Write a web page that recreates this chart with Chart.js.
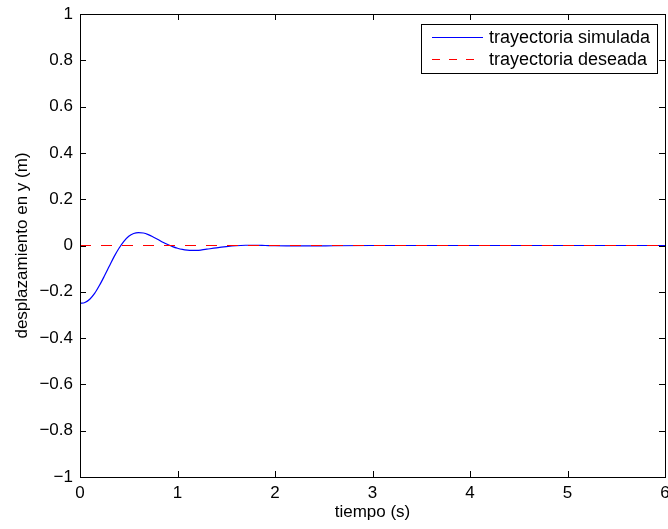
<!DOCTYPE html>
<html>
<head>
<meta charset="utf-8">
<script src="https://cdn.jsdelivr.net/npm/chart.js@4"></script>
<style>
  html, body { margin: 0; padding: 0; background: #fff; }
  #wrap { width: 668px; height: 529px; }
</style>
</head>
<body>
<div id="wrap"><canvas id="chart" width="668" height="529"></canvas></div>
<script>
// time (s) and simulated y displacement (m)
const tiempo = [0, 0.05, 0.1, 0.15, 0.2, 0.25, 0.3, 0.35, 0.4, 0.45, 0.5, 0.55, 0.6, 0.65, 0.7, 0.75, 0.8, 0.85, 0.9, 0.95,
  1.0, 1.05, 1.1, 1.15, 1.2, 1.25, 1.3, 1.4, 1.5, 1.6, 1.7, 1.8, 1.9, 2.0, 2.2, 2.4, 2.6, 3.0, 4.0, 5.0, 6.0];
const simulada = [-0.25, -0.246, -0.232, -0.207, -0.172, -0.132, -0.09, -0.048, -0.012, 0.018, 0.04, 0.052, 0.056, 0.054, 0.047, 0.037, 0.026, 0.014, 0.004, -0.005,
  -0.012, -0.017, -0.02, -0.021, -0.021, -0.019, -0.016, -0.01, -0.005, -0.001, 0.001, 0.001, 0, -0.001, -0.002, -0.002, -0.001, 0, 0, 0, 0];
const tiempoDeseado = [0, 6];
const deseada = [0, 0];

const xTicks = [0, 1, 2, 3, 4, 5, 6];
const yTicks = [-1, -0.8, -0.6, -0.4, -0.2, 0, 0.2, 0.4, 0.6, 0.8, 1];
const labels = ['trayectoria simulada', 'trayectoria deseada'];

const FONT = 'Liberation Sans, Arial, sans-serif';
const fmt = v => {
  const s = String(Math.round(v * 10) / 10);
  return s.replace('-', '\u2212');
};

// MATLAB-like box, inward ticks and legend
const matlabBox = {
  id: 'matlabBox',
  afterDraw(chart) {
    const ctx = chart.ctx;
    const a = chart.chartArea;
    const xs = chart.scales.x, ys = chart.scales.y;
    ctx.save();
    ctx.strokeStyle = '#000';
    ctx.lineWidth = 1;
    ctx.strokeRect(Math.round(a.left) + 0.5, Math.round(a.top) + 0.5,
      Math.round(a.right - a.left), Math.round(a.bottom - a.top));
    ctx.beginPath();
    const L = 6;
    xTicks.forEach(v => {
      const px = Math.round(xs.getPixelForValue(v)) + 0.5;
      ctx.moveTo(px, a.bottom); ctx.lineTo(px, a.bottom - L);
      ctx.moveTo(px, a.top); ctx.lineTo(px, a.top + L);
    });
    yTicks.forEach(v => {
      const py = Math.round(ys.getPixelForValue(v)) + 0.5;
      ctx.moveTo(a.left, py); ctx.lineTo(a.left + L, py);
      ctx.moveTo(a.right, py); ctx.lineTo(a.right - L, py);
    });
    ctx.stroke();

    // legend box
    const bx = 421.5, by = 24.5, bw = 236, bh = 49;
    ctx.fillStyle = '#fff';
    ctx.fillRect(bx, by, bw, bh);
    ctx.strokeRect(bx, by, bw, bh);
    ctx.font = '18px ' + FONT;
    ctx.textBaseline = 'middle';
    ctx.fillStyle = '#000';
    const rows = [by + 13, by + 35];
    ctx.strokeStyle = '#0000ff';
    ctx.beginPath(); ctx.moveTo(432, rows[0]); ctx.lineTo(483, rows[0]); ctx.stroke();
    ctx.strokeStyle = '#ff0000';
    ctx.setLineDash([8, 9]);
    ctx.beginPath(); ctx.moveTo(432, rows[1]); ctx.lineTo(483, rows[1]); ctx.stroke();
    ctx.setLineDash([]);
    ctx.fillText(labels[0], 489, rows[0] + 1);
    ctx.fillText(labels[1], 489, rows[1] + 1);
    ctx.restore();
  }
};

new Chart(document.getElementById('chart'), {
  type: 'scatter',
  data: {
    datasets: [
      {
        label: labels[1],
        data: tiempoDeseado.map((t, i) => ({ x: t, y: deseada[i] })),
        showLine: true,
        borderColor: '#ff0000',
        borderWidth: 1,
        borderDash: [11, 10],
        pointRadius: 0,
        order: 0
      },
      {
        label: labels[0],
        data: tiempo.map((t, i) => ({ x: t, y: simulada[i] })),
        showLine: true,
        borderColor: '#0000ff',
        borderWidth: 1.2,
        cubicInterpolationMode: 'monotone',
        pointRadius: 0,
        order: 1
      }
    ]
  },
  options: {
    responsive: false,
    animation: false,
    layout: { padding: { left: 0, right: 3, top: 14, bottom: 0 } },
    plugins: { legend: { display: false }, tooltip: { enabled: false } },
    scales: {
      x: {
        type: 'linear', min: 0, max: 6,
        afterBuildTicks: s => { s.ticks = xTicks.map(v => ({ value: v })); },
        afterFit: s => { s.height = 52; s.paddingLeft = 0; s.paddingRight = 0; },
        grid: { display: false, drawTicks: false },
        border: { display: false },
        ticks: { color: '#000', font: { family: FONT, size: 17 }, padding: 6, maxRotation: 0,
          callback: v => fmt(v) },
        title: { display: true, text: 'tiempo (s)', color: '#000', font: { family: FONT, size: 17 }, padding: { top: 0, bottom: 6 } }
      },
      y: {
        type: 'linear', min: -1, max: 1,
        afterBuildTicks: s => { s.ticks = yTicks.map(v => ({ value: v })); },
        afterFit: s => { s.width = 80; s.paddingTop = 0; s.paddingBottom = 0; },
        grid: { display: false, drawTicks: false },
        border: { display: false },
        ticks: { color: '#000', font: { family: FONT, size: 17 }, padding: 7,
          callback: v => fmt(v) },
        title: { display: true, text: 'desplazamiento en y (m)', color: '#000', font: { family: FONT, size: 17 }, padding: { top: 12, bottom: 4 } }
      }
    }
  },
  plugins: [matlabBox]
});
</script>
</body>
</html>
